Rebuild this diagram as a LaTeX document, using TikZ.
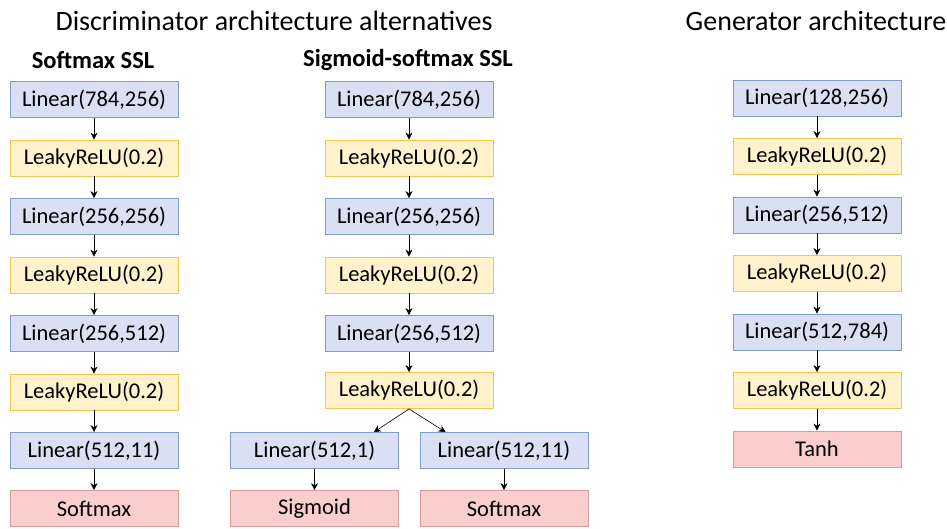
\documentclass[tikz,border=0pt]{standalone}
\usepackage{fontspec}
\setmainfont{Carlito}
\usetikzlibrary{arrows.meta}
\definecolor{linfill}{RGB}{218,224,243}
\definecolor{lindraw}{RGB}{130,155,205}
\definecolor{relfill}{RGB}{255,242,204}
\definecolor{reldraw}{RGB}{250,195,70}
\definecolor{outfill}{RGB}{249,206,204}
\definecolor{outdraw}{RGB}{215,155,155}
\tikzset{
  blk/.style={minimum width=168pt, minimum height=36pt, inner sep=0pt, font=\fontsize{22.5}{24}\selectfont, line width=0.8pt},
  lin/.style={blk, fill=linfill, draw=lindraw},
  rel/.style={blk, fill=relfill, draw=reldraw},
  outb/.style={blk, fill=outfill, draw=outdraw},
  arr/.style={-{Stealth[length=7pt,width=7pt]}, line width=0.6pt, black},
  ttl/.style={font=\fontsize{28}{30}\selectfont, inner sep=0pt},
  sub/.style={font=\bfseries\fontsize{24.5}{26}\selectfont, inner sep=0pt}
}
\begin{document}
\begin{tikzpicture}[x=1pt,y=-1pt]
\useasboundingbox (0,0) rectangle (947,528);
% titles
\node[ttl] (t1) at (274,21) {Discriminator architecture alternatives};
\node[ttl] (t2) at (816,21) {Generator architecture};
\node[sub] (s1) at (93,60) {Softmax SSL};
\node[sub] (s2) at (408,60) {Sigmoid-softmax SSL};
% left column
\node[lin] (a1) at (94,99.5) {Linear(784,256)};
\node[rel] (a2) at (94,158) {LeakyReLU(0.2)};
\node[lin] (a3) at (94,216.5) {Linear(256,256)};
\node[rel] (a4) at (94,275) {LeakyReLU(0.2)};
\node[lin] (a5) at (94,333.5) {Linear(256,512)};
\node[rel] (a6) at (94,392) {LeakyReLU(0.2)};
\node[lin] (a7) at (94,450.5) {Linear(512,11)};
\node[outb] (a8) at (94,508.5) {Softmax};
\foreach \i/\j in {a1/a2,a2/a3,a3/a4,a4/a5,a5/a6,a6/a7,a7/a8}
  \draw[arr] (\i.south) -- (\j.north);
% middle column
\node[lin] (b1) at (409,99.5) {Linear(784,256)};
\node[rel] (b2) at (409,158) {LeakyReLU(0.2)};
\node[lin] (b3) at (409,216.5) {Linear(256,256)};
\node[rel] (b4) at (409,275) {LeakyReLU(0.2)};
\node[lin] (b5) at (409,333.5) {Linear(256,512)};
\node[rel] (b6) at (409,390.5) {LeakyReLU(0.2)};
\node[lin] (b7) at (314.5,450.5) {Linear(512,1)};
\node[lin] (b8) at (504,450.5) {Linear(512,11)};
\node[outb] (b9) at (314.5,508.5) {Sigmoid};
\node[outb] (b10) at (504,508.5) {Softmax};
\foreach \i/\j in {b1/b2,b2/b3,b3/b4,b4/b5,b5/b6,b7/b9,b8/b10}
  \draw[arr] (\i.south) -- (\j.north);
\draw[arr] (b6.south) -- ([xshift=-25pt]b7.north east);
\draw[arr] (b6.south) -- ([xshift=26pt]b8.north west);
% right column
\node[lin] (c1) at (817,98) {Linear(128,256)};
\node[rel] (c2) at (817,156.5) {LeakyReLU(0.2)};
\node[lin] (c3) at (817,215) {Linear(256,512)};
\node[rel] (c4) at (817,273.5) {LeakyReLU(0.2)};
\node[lin] (c5) at (817,332) {Linear(512,784)};
\node[rel] (c6) at (817,390.5) {LeakyReLU(0.2)};
\node[outb] (c7) at (817,449) {Tanh};
\foreach \i/\j in {c1/c2,c2/c3,c3/c4,c4/c5,c5/c6,c6/c7}
  \draw[arr] (\i.south) -- (\j.north);
\end{tikzpicture}
\end{document}
